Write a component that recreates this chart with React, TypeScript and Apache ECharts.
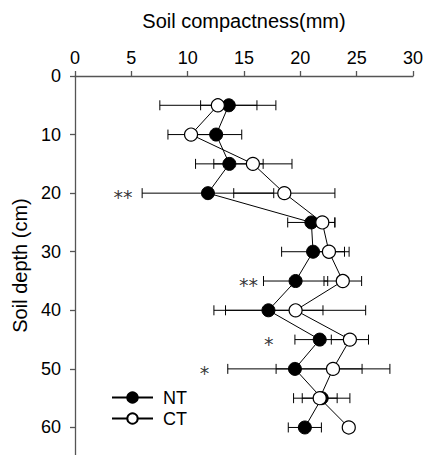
import React, { useEffect, useRef } from 'react';
import * as echarts from 'echarts';

const depths = [5, 10, 15, 20, 25, 30, 35, 40, 45, 50, 55, 60];
const ntMean = [13.65, 12.53, 13.7, 11.8, 20.98, 21.13, 19.58, 17.17, 21.72, 19.52, 21.9, 20.4];
const ntErr = [2.5, 2.27, 3.0, 5.84, 2.1, 2.79, 2.85, 4.84, 2.2, 5.96, 2.5, 1.47];
const ctMean = [12.68, 10.3, 15.79, 18.58, 21.95, 22.54, 23.77, 19.58, 24.4, 22.9, 21.72, 24.3];
const ctErr = [5.15, 2.05, 3.47, 4.49, 1.1, 1.79, 1.67, 6.22, 1.65, 5.05, 1.55, 0.35];
const yTicks = [0, 10, 20, 30, 40, 50, 60];
const marks = ['**', '**', '*', '*'];
const markX = [4.25, 15.4, 17.2, 11.5];
const markDepth = [20, 35, 45, 50];

const FONT = '"Liberation Sans", Arial, sans-serif';

export default function App() {
  const ref = useRef<HTMLDivElement>(null);
  useEffect(() => {
    const chart = echarts.init(ref.current!, null, { renderer: 'svg' });
    const errData = (m: number[], e: number[]) => depths.map((d, i) => [m[i] - e[i], m[i] + e[i], d]);
    const renderErr = (params: any, api: any) => {
      const lo = api.coord([api.value(0), api.value(2)]);
      const hi = api.coord([api.value(1), api.value(2)]);
      const h = 5;
      const style = { stroke: '#000', lineWidth: 1, fill: 'none' };
      return {
        type: 'group',
        children: [
          { type: 'line', shape: { x1: lo[0], y1: lo[1], x2: hi[0], y2: hi[1] }, style },
          { type: 'line', shape: { x1: lo[0], y1: lo[1] - h, x2: lo[0], y2: lo[1] + h }, style },
          { type: 'line', shape: { x1: hi[0], y1: hi[1] - h, x2: hi[0], y2: hi[1] + h }, style },
        ],
      };
    };
    const axisColor = '#555';
    chart.setOption({
      animation: false,
      grid: { left: 75, right: 10, top: 76, bottom: 0, containLabel: false },
      xAxis: {
        type: 'value',
        position: 'top',
        min: 0,
        max: 30,
        interval: 5,
        name: 'Soil compactness(mm)',
        nameLocation: 'middle',
        nameGap: 45,
        nameTextStyle: { fontFamily: FONT, fontSize: 20, color: '#000' },
        axisLine: { show: true, lineStyle: { color: axisColor, width: 1.3 } },
        axisTick: { show: true, length: 5, lineStyle: { color: axisColor, width: 1.3 } },
        axisLabel: { fontFamily: FONT, fontSize: 18, color: '#000', margin: 9 },
        splitLine: { show: false },
      },
      yAxis: {
        type: 'value',
        inverse: true,
        min: 0,
        max: 64.7,
        interval: 10,
        name: 'Soil depth (cm)',
        nameLocation: 'middle',
        nameGap: 43,
        nameTextStyle: { fontFamily: FONT, fontSize: 20, color: '#000' },
        axisLine: { show: true, lineStyle: { color: axisColor, width: 1.3 } },
        axisTick: { show: true, length: 5, customValues: yTicks, lineStyle: { color: axisColor, width: 1.3 } },
        axisLabel: { fontFamily: FONT, fontSize: 18, color: '#000', margin: 14, customValues: yTicks },
        splitLine: { show: false },
      },
      legend: {
        data: ['NT', 'CT'],
        orient: 'vertical',
        left: 106,
        top: 382,
        itemWidth: 41,
        itemHeight: 13,
        itemGap: 0,
        textStyle: { fontFamily: FONT, fontSize: 18, color: '#000', lineHeight: 21, padding: [0, 0, 0, 5] },
      },
      series: [
        {
          type: 'custom',
          name: 'errNT',
          renderItem: renderErr,
          encode: { x: [0, 1], y: 2 },
          data: errData(ntMean, ntErr),
          z: 1,
          silent: true,
        },
        {
          type: 'custom',
          name: 'errCT',
          renderItem: renderErr,
          encode: { x: [0, 1], y: 2 },
          data: errData(ctMean, ctErr),
          z: 1,
          silent: true,
        },
        {
          type: 'line',
          name: 'NT',
          data: depths.map((d, i) => [ntMean[i], d]),
          symbol: 'circle',
          symbolSize: 13,
          lineStyle: { color: '#000', width: 1 },
          itemStyle: { color: '#000', borderColor: '#000', borderWidth: 1 },
          z: 3,
        },
        {
          type: 'line',
          name: 'CT',
          data: depths.map((d, i) => [ctMean[i], d]),
          symbol: 'circle',
          symbolSize: 13,
          lineStyle: { color: '#000', width: 1 },
          itemStyle: { color: '#fff', borderColor: '#000', borderWidth: 1.2 },
          z: 4,
        },
        {
          type: 'scatter',
          name: 'sig',
          data: marks.map((m, i) => [markX[i], markDepth[i], m]),
          symbolSize: 0,
          silent: true,
          itemStyle: { color: '#000' },
          label: {
            show: true,
            position: 'inside',
            offset: [0, 4],
            formatter: (p: any) => p.data[2],
            fontFamily: '"DejaVu Sans", sans-serif',
            fontSize: 19,
            color: '#000',
            textBorderWidth: 0,
            textBorderColor: 'transparent',
          },
          z: 5,
        },
      ],
    });
    return () => chart.dispose();
  }, []);
  return (
    <div
      ref={ref}
      style={{ position: 'fixed', left: 0, top: 0, width: 426, height: 455, background: '#fff' }}
    />
  );
}
